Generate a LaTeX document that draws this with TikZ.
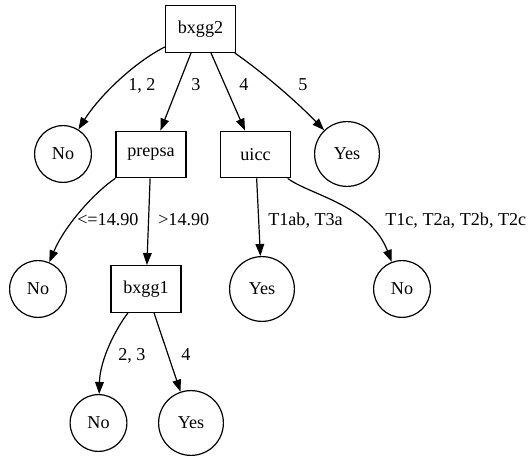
\documentclass[tikz,border=0pt]{standalone}
\usepackage{fontspec}
\setmainfont{Liberation Serif}
\usetikzlibrary{arrows.meta}
\newcommand{\treefont}{\fontsize{13.6}{16}\selectfont}
\tikzset{
  splitbox/.style={draw=black,line width=0.9pt,rectangle,minimum width=52.5pt,minimum height=35pt,inner sep=2pt,font=\treefont},
  leaf/.style={draw=black,line width=0.9pt,circle,inner sep=0pt,minimum size=42.6pt,font=\treefont},
  bigleaf/.style={leaf,minimum size=48.6pt},
  branch/.style={-{Triangle[length=9pt,width=6.5pt]},draw=black,line width=0.9pt},
  cond/.style={anchor=base west,inner sep=0pt,font=\treefont}
}

\begin{document}
\begin{tikzpicture}[x=0.75pt,y=-0.75pt]
\useasboundingbox (0,0) rectangle (528,459);
% splits
\node[splitbox] (bxgg2) at (200.5,29) {bxgg2};
\node[splitbox] (prepsa) at (151,154.5) {prepsa};
\node[splitbox] (uicc) at (255.5,154.5) {uicc};
\node[splitbox] (bxgg1) at (146,289) {bxgg1};
% leaves
\node[leaf] (noA) at (63,154) {No};
\node[bigleaf] (yesA) at (347,154) {Yes};
\node[leaf] (noB) at (38,289) {No};
\node[bigleaf] (yesB) at (262,289) {Yes};
\node[leaf] (noC) at (402,289) {No};
\node[leaf] (noD) at (98.5,423) {No};
\node[bigleaf] (yesC) at (191,423) {Yes};

% branches
\draw[branch] (bxgg2) .. controls (135,62) and (100,95) .. (noA);
\draw[branch] (bxgg2) -- (prepsa);
\draw[branch] (bxgg2) -- (uicc);
\draw[branch] (bxgg2) .. controls (262,72) and (295,100) .. (yesA);
\draw[branch] (prepsa) .. controls (95,192) and (65,225) .. (noB);
\draw[branch] (prepsa) -- (bxgg1);
\draw[branch] (uicc) -- (yesB);
\draw[branch] (uicc) .. controls (310,195) and (370,205) .. (noC);
\draw[branch] (bxgg1) .. controls (115,330) and (100,360) .. (noD);
\draw[branch] (bxgg1) -- (yesC);

% branch conditions
\node[cond] (c12) at (128,90.5) {1, 2};
\node[cond] (c3) at (191,90.5) {3};
\node[cond] (c4) at (239,90.5) {4};
\node[cond] (c5) at (298,90.5) {5};
\node[cond] (cle) at (77,226) {<=14.90};
\node[cond] (cgt) at (158,226) {>14.90};
\node[cond] (ct1ab) at (268,226) {T1ab, T3a};
\node[cond] (ct1c) at (385,226) {T1c, T2a, T2b, T2c};
\node[cond] (c23) at (118,361) {2, 3};
\node[cond] (c4b) at (181,361) {4};
\end{tikzpicture}
\end{document}
